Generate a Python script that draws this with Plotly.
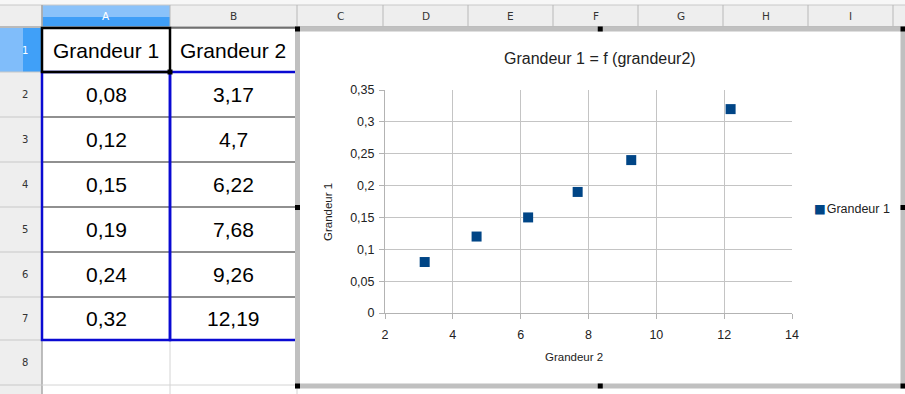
import plotly.graph_objects as go

# ---- data ----
grandeur1 = [0.08, 0.12, 0.15, 0.19, 0.24, 0.32]
grandeur2 = [3.17, 4.7, 6.22, 7.68, 9.26, 12.19]
header_labels = ["Grandeur 1", "Grandeur 2"]
column_letters = ["A", "B", "C", "D", "E", "F", "G", "H", "I"]
row_numbers = ["1", "2", "3", "4", "5", "6", "7", "8"]
x_ticks = [2, 4, 6, 8, 10, 12, 14]
y_ticks = [0, 0.05, 0.1, 0.15, 0.2, 0.25, 0.3, 0.35]
series_name = "Grandeur 1"
series_color = "#004586"

W, H = 905, 394


def X(px):
    return px / W


def Y(py):
    return 1 - py / H


# spreadsheet geometry (pixels)
col_edges = [42, 170, 297, 383, 468, 553, 638, 723, 808, 893]
row_edges = [28, 72, 117, 162, 207, 252, 297, 340, 385]
header_top, header_bot = 5, 27

shapes = []
annotations = []


def rect(x0, y0, x1, y1, fill=None, line=None, width=1, layer="below"):
    shapes.append(dict(
        type="rect", xref="paper", yref="paper",
        x0=X(x0), x1=X(x1), y0=Y(y1), y1=Y(y0),
        fillcolor=fill if fill else "rgba(0,0,0,0)",
        line=dict(color=line if line else "rgba(0,0,0,0)", width=width if line else 0),
        layer=layer))


def hline(x0, x1, y, color, width=1, layer="below"):
    shapes.append(dict(type="line", xref="paper", yref="paper",
                       x0=X(x0), x1=X(x1), y0=Y(y), y1=Y(y),
                       line=dict(color=color, width=width), layer=layer))


def vline(x, y0, y1, color, width=1, layer="below"):
    shapes.append(dict(type="line", xref="paper", yref="paper",
                       x0=X(x), x1=X(x), y0=Y(y0), y1=Y(y1),
                       line=dict(color=color, width=width), layer=layer))


def text(x, y, s, size, color="#000", family="Liberation Sans", angle=0, xanchor="center"):
    annotations.append(dict(
        x=X(x), y=Y(y), xref="paper", yref="paper", text=s, showarrow=False,
        xanchor=xanchor, yanchor="middle", textangle=angle,
        font=dict(family=family, size=size, color=color)))


# ---- spreadsheet headers ----
rect(0, 0, W, header_top, fill="#f7f7f7")
rect(0, header_top, W, header_bot, fill="#eeeeee")
rect(0, header_bot, col_edges[0], H, fill="#eeeeee")
# selected column A and row 1 highlight
rect(col_edges[0], header_top, col_edges[1], 17, fill="#8ac2fa")
rect(col_edges[0], 17, col_edges[1], header_bot, fill="#3f9ef7")
rect(0, row_edges[0], 23, row_edges[1], fill="#80bdfa")
rect(23, row_edges[0], col_edges[0], row_edges[1], fill="#40a0f8")

hline(0, W, header_top, "#c8c8c8")
hline(0, W, header_bot, "#a8a8a8", 1.5)
for cx in col_edges:
    vline(cx, header_top, header_bot, "#b8b8b8")
vline(col_edges[0], header_top, H, "#a8a8a8", 1.5)
for ry in row_edges[1:]:
    hline(0, col_edges[0], ry, "#c8c8c8")

for i, letter in enumerate(column_letters):
    cx = (col_edges[i] + col_edges[i + 1]) / 2
    text(cx, 16, letter, 10.5, color="#ffffff" if i == 0 else "#333333",
         family="DejaVu Sans")
for i, num in enumerate(row_numbers):
    cy = (row_edges[i] + row_edges[i + 1]) / 2
    text(25, cy, num, 10, color="#ffffff" if i == 0 else "#333333",
         family="DejaVu Sans")

# ---- empty grid below the data ----
hline(col_edges[0], col_edges[2], row_edges[8], "#d4d4d4")
vline(col_edges[1], row_edges[7], H, "#d4d4d4")
vline(col_edges[2], row_edges[8], H, "#d4d4d4")

# ---- data cells ----
def fmt(v):
    return str(v).replace(".", ",")


text((col_edges[0] + col_edges[1]) / 2, (row_edges[0] + row_edges[1]) / 2,
     header_labels[0], 21)
text((col_edges[1] + col_edges[2]) / 2, (row_edges[0] + row_edges[1]) / 2,
     header_labels[1], 21)
for i, (a, b) in enumerate(zip(grandeur1, grandeur2)):
    cy = (row_edges[i + 1] + row_edges[i + 2]) / 2
    text((col_edges[0] + col_edges[1]) / 2, cy, fmt(a), 21)
    text((col_edges[1] + col_edges[2]) / 2, cy, fmt(b), 21)

# cell borders
for ry in row_edges[:8]:
    hline(col_edges[0], col_edges[2], ry, "#222222", 1.2)
vline(col_edges[1], row_edges[0], row_edges[1], "#222222", 1.2)
# data range outlines
rect(col_edges[0], row_edges[1], col_edges[1], row_edges[7], line="#0a0ad2", width=2.5)
rect(col_edges[1], row_edges[1], col_edges[2], row_edges[7], line="#0a0ad2", width=2.5)
# cell cursor on A1
rect(col_edges[0], row_edges[0], col_edges[1], row_edges[1], line="#000000", width=2.5)
rect(col_edges[1] - 2.5, row_edges[1] - 2.5, col_edges[1] + 2.5, row_edges[1] + 2.5,
     fill="#000000")

# ---- chart frame ----
fx0, fy0, fx1, fy1 = 297.5, 29, 903, 386
rect(fx0, fy0, fx1, fy1, fill="#ffffff", line="#c0c0c0", width=5)
mx, my = (fx0 + fx1) / 2, (fy0 + fy1) / 2
for hx, hy in [(fx0, fy0), (mx, fy0), (fx1, fy0), (fx0, my), (fx1, my),
               (fx0, fy1), (mx, fy1), (fx1, fy1)]:
    rect(hx - 2.5, hy - 2.5, hx + 2.5, hy + 2.5, fill="#000000")

# chart texts
text(600, 58, "Grandeur 1 = f (grandeur2)", 16, color="#222222")
text(328, 212, "Grandeur 1", 11.5, color="#222222", angle=-90)
text(574, 357, "Grandeur 2", 11.5, color="#222222")

# legend entry: coloured square key followed by the series name
text(812, 208,
     f'<span style="color:{series_color};font-family:DejaVu Sans">&#9632;</span>'
     f'<span style="font-size:3px"> </span>{series_name}',
     12.5, color="#222222", xanchor="left")

# ---- scatter ----
fig = go.Figure()
fig.add_trace(go.Scatter(
    x=grandeur2, y=grandeur1, mode="markers", name=series_name,
    marker=dict(symbol="square", size=10, color=series_color),
))

axis_common = dict(
    showgrid=True, gridcolor="#c4c4c4", gridwidth=1,
    showline=True, linecolor="#b3b3b3", linewidth=1,
    ticks="outside", ticklen=5, tickcolor="#b3b3b3", tickwidth=1,
    zeroline=False, fixedrange=True, automargin=False,
    tickfont=dict(family="Liberation Sans", size=12.5, color="#222222"),
)

fig.update_layout(
    width=W, height=H,
    margin=dict(l=0, r=0, t=0, b=0, autoexpand=False),
    paper_bgcolor="#ffffff", plot_bgcolor="rgba(0,0,0,0)",
    separators=", ",
    xaxis=dict(domain=[X(385), X(792)], range=[2, 14], tickvals=x_ticks,
               anchor="y", ticklabelstandoff=5, **axis_common),
    yaxis=dict(domain=[Y(313), Y(90)], range=[0, 0.35], tickvals=y_ticks,
               anchor="x", ticklabelstandoff=2, **axis_common),
    showlegend=False,
    shapes=shapes,
    annotations=annotations,
)

fig.write_html("out.html", config={"displayModeBar": False},
               post_script="document.body.style.margin='0';")
